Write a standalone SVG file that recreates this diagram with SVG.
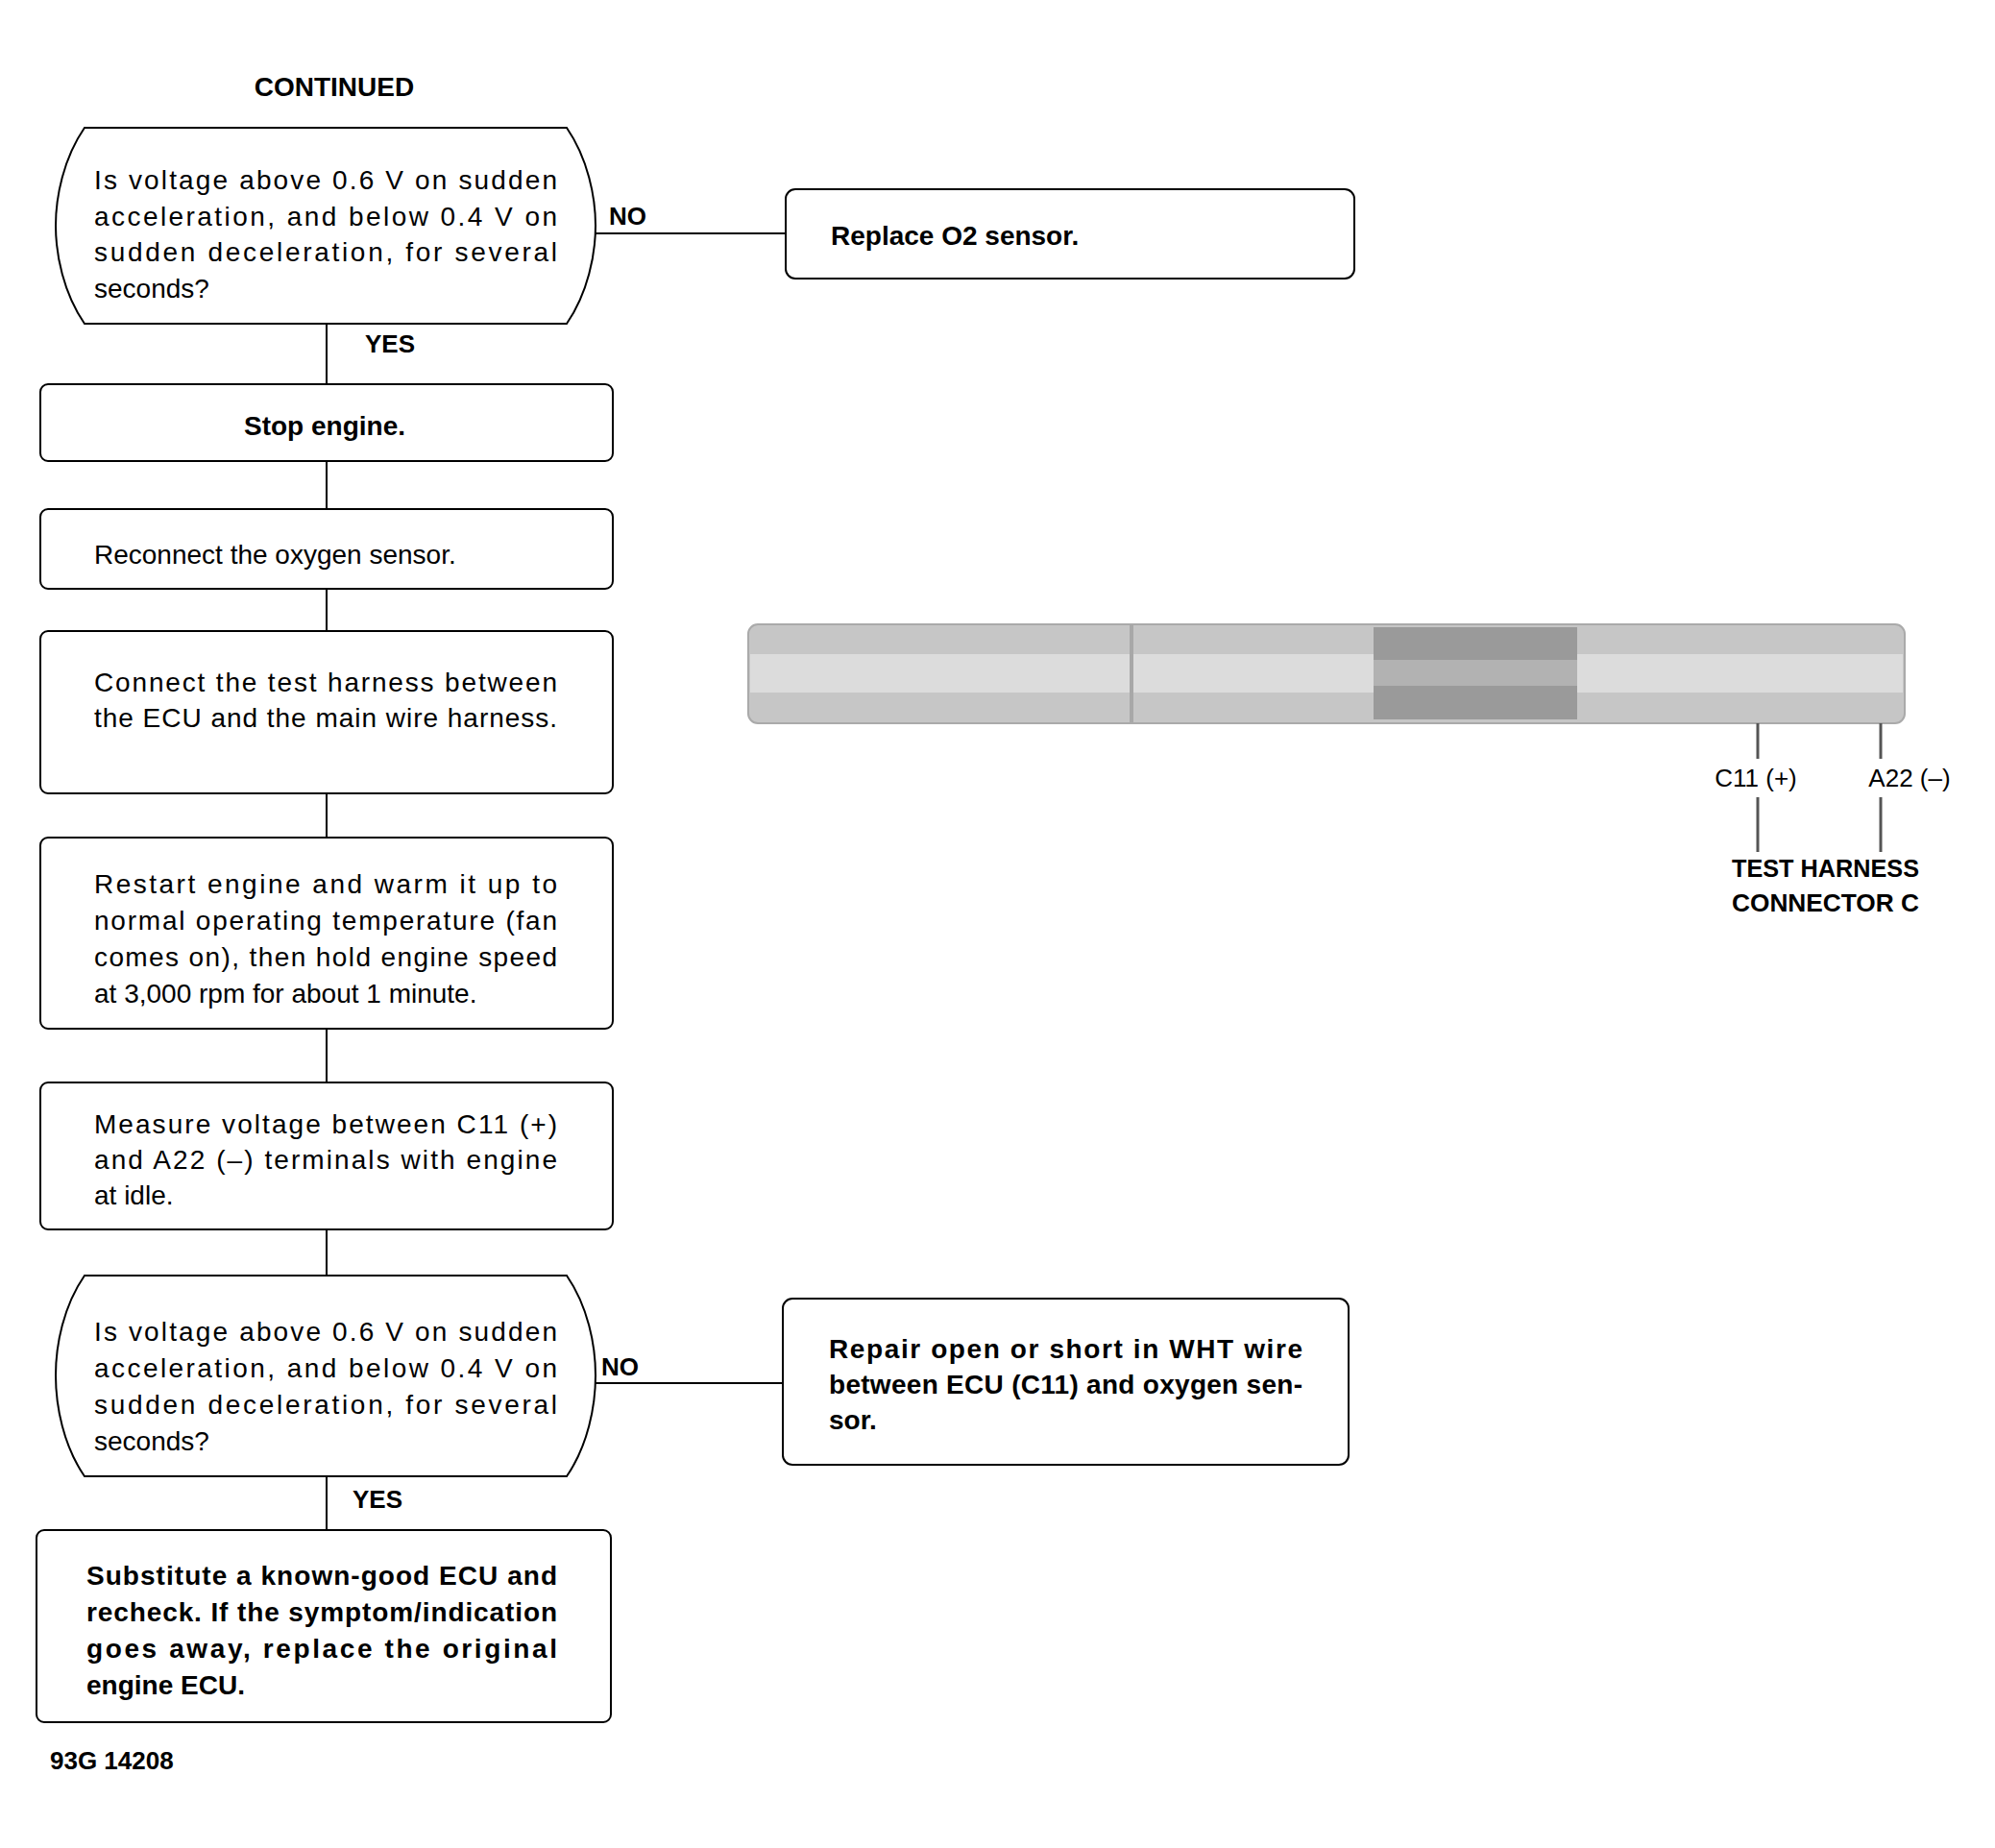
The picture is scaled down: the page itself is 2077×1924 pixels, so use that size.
<svg xmlns="http://www.w3.org/2000/svg" width="2077" height="1924" viewBox="0 0 2077 1924">
<style>
  .bx{fill:#fff;stroke:#000;stroke-width:2}
  .t{font-family:"Liberation Sans",Arial,sans-serif;font-size:28px;fill:#000}
  .b{font-weight:bold}
  .lbl{font-family:"Liberation Sans",Arial,sans-serif;font-size:26px;font-weight:bold;fill:#000}
  .ln{stroke:#000;stroke-width:2;fill:none}
  .lead{stroke:#555;stroke-width:3;fill:none}
</style>
<rect width="2077" height="1924" fill="#fff"/>
<text class="t b" x="348" y="100" text-anchor="middle">CONTINUED</text>

<g id="connectors">
  <line class="ln" x1="340" y1="337" x2="340" y2="400"/>
  <line class="ln" x1="340" y1="480" x2="340" y2="530"/>
  <line class="ln" x1="340" y1="613" x2="340" y2="657"/>
  <line class="ln" x1="340" y1="826" x2="340" y2="872"/>
  <line class="ln" x1="340" y1="1071" x2="340" y2="1127"/>
  <line class="ln" x1="340" y1="1280" x2="340" y2="1328"/>
  <line class="ln" x1="340" y1="1537" x2="340" y2="1593"/>
  <line class="ln" x1="620" y1="243" x2="818" y2="243"/>
  <line class="ln" x1="620" y1="1440" x2="815" y2="1440"/>
  <text class="lbl" x="634" y="234">NO</text>
  <text class="lbl" x="380" y="367">YES</text>
  <text class="lbl" x="626" y="1432">NO</text>
  <text class="lbl" x="367" y="1570">YES</text>
</g>

<g id="n1">
  <path class="bx" d="M88,133 H590 C612,165 620,205 620,235 C620,265 612,305 590,337 H88 C66,305 58,265 58,235 C58,205 66,165 88,133 Z"/>
  <text class="t" x="98" y="197" textLength="482" lengthAdjust="spacing">Is voltage above 0.6 V on sudden</text>
  <text class="t" x="98" y="235" textLength="482" lengthAdjust="spacing">acceleration, and below 0.4 V on</text>
  <text class="t" x="98" y="272" textLength="482" lengthAdjust="spacing">sudden deceleration, for several</text>
  <text class="t" x="98" y="310">seconds?</text>
</g>

<g id="n2">
  <rect class="bx" x="818" y="197" width="592" height="93" rx="10"/>
  <text class="t b" x="865" y="255">Replace O2 sensor.</text>
</g>

<g id="n3">
  <rect class="bx" x="42" y="400" width="596" height="80" rx="8"/>
  <text class="t b" x="254" y="453">Stop engine.</text>
</g>

<g id="n4">
  <rect class="bx" x="42" y="530" width="596" height="83" rx="8"/>
  <text class="t" x="98" y="587">Reconnect the oxygen sensor.</text>
</g>

<g id="n5">
  <rect class="bx" x="42" y="657" width="596" height="169" rx="8"/>
  <text class="t" x="98" y="720" textLength="482" lengthAdjust="spacing">Connect the test harness between</text>
  <text class="t" x="98" y="757" textLength="482" lengthAdjust="spacing">the ECU and the main wire harness.</text>
</g>

<g id="n6">
  <rect class="bx" x="42" y="872" width="596" height="199" rx="8"/>
  <text class="t" x="98" y="930" textLength="482" lengthAdjust="spacing">Restart engine and warm it up to</text>
  <text class="t" x="98" y="968" textLength="482" lengthAdjust="spacing">normal operating temperature (fan</text>
  <text class="t" x="98" y="1006" textLength="482" lengthAdjust="spacing">comes on), then hold engine speed</text>
  <text class="t" x="98" y="1044">at 3,000 rpm for about 1 minute.</text>
</g>

<g id="n7">
  <rect class="bx" x="42" y="1127" width="596" height="153" rx="8"/>
  <text class="t" x="98" y="1180" textLength="482" lengthAdjust="spacing">Measure voltage between C11 (+)</text>
  <text class="t" x="98" y="1217" textLength="482" lengthAdjust="spacing">and A22 (–) terminals with engine</text>
  <text class="t" x="98" y="1254">at idle.</text>
</g>

<g id="n8">
  <path class="bx" d="M88,1328 H590 C612,1360 620,1400 620,1432 C620,1464 612,1505 590,1537 H88 C66,1505 58,1464 58,1432 C58,1400 66,1360 88,1328 Z"/>
  <text class="t" x="98" y="1396" textLength="482" lengthAdjust="spacing">Is voltage above 0.6 V on sudden</text>
  <text class="t" x="98" y="1434" textLength="482" lengthAdjust="spacing">acceleration, and below 0.4 V on</text>
  <text class="t" x="98" y="1472" textLength="482" lengthAdjust="spacing">sudden deceleration, for several</text>
  <text class="t" x="98" y="1510">seconds?</text>
</g>

<g id="n9">
  <rect class="bx" x="815" y="1352" width="589" height="173" rx="10"/>
  <text class="t b" x="863" y="1414" textLength="493" lengthAdjust="spacing">Repair open or short in WHT wire</text>
  <text class="t b" x="863" y="1451" textLength="493" lengthAdjust="spacing">between ECU (C11) and oxygen sen-</text>
  <text class="t b" x="863" y="1488">sor.</text>
</g>

<g id="n10">
  <rect class="bx" x="38" y="1593" width="598" height="200" rx="8"/>
  <text class="t b" x="90" y="1650" textLength="490" lengthAdjust="spacing">Substitute a known-good ECU and</text>
  <text class="t b" x="90" y="1688" textLength="490" lengthAdjust="spacing">recheck. If the symptom/indication</text>
  <text class="t b" x="90" y="1726" textLength="490" lengthAdjust="spacing">goes away, replace the original</text>
  <text class="t b" x="90" y="1764">engine ECU.</text>
</g>

<g id="harness">
  <rect x="779" y="650" width="1204" height="103" rx="10" fill="#c6c6c6" stroke="#aaa" stroke-width="2"/>
  <rect x="781" y="681" width="1200" height="40" fill="#dcdcdc"/>
  <line x1="1178" y1="651" x2="1178" y2="752" stroke="#a8a8a8" stroke-width="4"/>
  <rect x="1430" y="653" width="212" height="96" fill="#9a9a9a"/>
  <rect x="1430" y="687" width="212" height="27" fill="#b2b2b2"/>
  <line class="lead" x1="1830" y1="753" x2="1830" y2="790"/>
  <line class="lead" x1="1830" y1="830" x2="1830" y2="887"/>
  <line class="lead" x1="1958" y1="753" x2="1958" y2="790"/>
  <line class="lead" x1="1958" y1="830" x2="1958" y2="887"/>
  <text class="t" x="1828" y="819" font-size="26" text-anchor="middle" style="font-size:26px">C11 (+)</text>
  <text class="t" x="1988" y="819" text-anchor="middle" style="font-size:26px">A22 (–)</text>
  <text class="t b" x="1803" y="913" textLength="195" lengthAdjust="spacingAndGlyphs" style="font-size:26px">TEST HARNESS</text>
  <text class="t b" x="1803" y="949" textLength="195" lengthAdjust="spacingAndGlyphs" style="font-size:26px">CONNECTOR C</text>
</g>

<text class="lbl" x="52" y="1842">93G 14208</text>
</svg>
